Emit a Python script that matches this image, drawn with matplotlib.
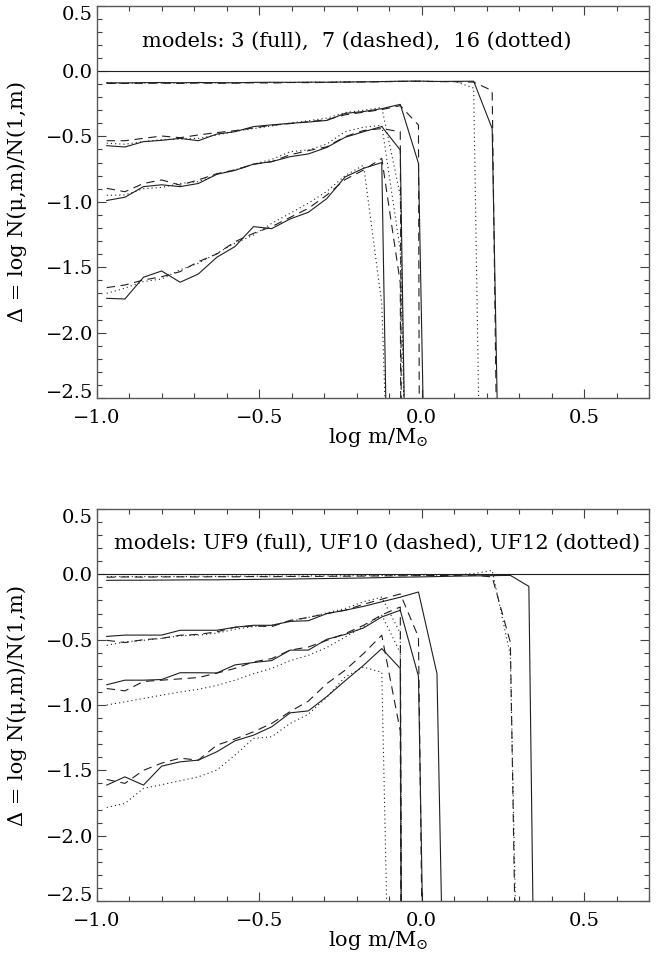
import matplotlib
matplotlib.use('Agg')
import matplotlib.pyplot as plt
from matplotlib.ticker import MultipleLocator, FuncFormatter

plt.rcParams['font.family'] = ['DejaVu Serif']
plt.rcParams['mathtext.fontset'] = 'dejavuserif'
plt.rcParams['lines.scale_dashes'] = False

# mass grid (log m / Msun)
LOGM = [-0.970, -0.914, -0.857, -0.801, -0.744, -0.688, -0.631, -0.575, -0.518,
        -0.462, -0.405, -0.349, -0.292, -0.236, -0.179, -0.123, -0.066, -0.010,
        0.047, 0.104, 0.160, 0.217, 0.273, 0.330, 0.386]

# ---------------- top panel: models 3 (full), 7 (dashed), 16 (dotted)
T_S1 = [-0.090, -0.091, -0.089, -0.088, -0.090, -0.088, -0.089, -0.090, -0.087, -0.086,
        -0.087, -0.085, -0.086, -0.084, -0.083, -0.081, -0.078, -0.077, -0.080, -0.079,
        -0.078, -0.44, -8.0]
T_D1 = [-0.095, -0.095, -0.094, -0.093, -0.095, -0.092, -0.094, -0.093, -0.090, -0.092,
        -0.088, -0.089, -0.087, -0.085, -0.084, -0.082, -0.080, -0.079, -0.081, -0.082,
        -0.085, -0.15, -11.0]
T_O1 = [-0.092, -0.093, -0.091, -0.092, -0.090, -0.091, -0.089, -0.090, -0.089, -0.088,
        -0.087, -0.086, -0.085, -0.083, -0.082, -0.080, -0.079, -0.078, -0.080, -0.082,
        -0.13, -9.0]

T_S2 = [-0.571, -0.581, -0.540, -0.530, -0.515, -0.533, -0.482, -0.464, -0.425, -0.412,
        -0.400, -0.390, -0.378, -0.324, -0.310, -0.288, -0.255, -0.706, -8.0]
T_D2 = [-0.533, -0.533, -0.515, -0.497, -0.510, -0.489, -0.471, -0.456, -0.435, -0.415,
        -0.402, -0.388, -0.372, -0.335, -0.315, -0.295, -0.265, -0.413, -50.0]
T_O2 = [-0.552, -0.560, -0.540, -0.525, -0.520, -0.515, -0.490, -0.462, -0.440, -0.420,
        -0.398, -0.380, -0.360, -0.318, -0.300, -0.278, -0.95, -8.5]

T_S3 = [-0.990, -0.965, -0.884, -0.870, -0.884, -0.860, -0.790, -0.760, -0.712, -0.693,
        -0.655, -0.634, -0.584, -0.507, -0.464, -0.425, -0.604, -9.5]
T_D3 = [-0.897, -0.923, -0.860, -0.833, -0.872, -0.833, -0.785, -0.757, -0.713, -0.693,
        -0.640, -0.609, -0.579, -0.502, -0.455, -0.440, -0.465, -40.0]
T_O3 = [-0.950, -0.948, -0.900, -0.890, -0.860, -0.846, -0.790, -0.755, -0.712, -0.676,
        -0.617, -0.604, -0.558, -0.464, -0.430, -0.415, -1.37, -7.4]

T_S4 = [-1.738, -1.743, -1.577, -1.529, -1.615, -1.552, -1.424, -1.342, -1.190, -1.205,
        -1.131, -1.080, -0.975, -0.810, -0.744, -0.700, -9.0]
T_D4 = [-1.656, -1.636, -1.598, -1.573, -1.534, -1.458, -1.399, -1.305, -1.241, -1.190,
        -1.119, -1.050, -0.948, -0.830, -0.757, -0.668, -1.62, -40.0]
T_O4 = [-1.700, -1.660, -1.610, -1.590, -1.520, -1.470, -1.394, -1.317, -1.254, -1.165,
        -1.088, -1.010, -0.920, -0.800, -0.720, -1.78, -6.0]

# ---------------- bottom panel: models UF9 (full), UF10 (dashed), UF12 (dotted)
B_S1 = [-0.046, -0.045, -0.045, -0.044, -0.043, -0.042, -0.042, -0.040, -0.039, -0.037,
        -0.036, -0.034, -0.032, -0.030, -0.028, -0.025, -0.022, -0.020, -0.017, -0.014,
        -0.012, -0.010, -0.008, -0.092, -11.0]
B_D1 = [-0.022, -0.020, -0.021, -0.020, -0.019, -0.020, -0.018, -0.019, -0.017, -0.018,
        -0.016, -0.017, -0.015, -0.014, -0.013, -0.012, -0.011, -0.010, -0.009, -0.008,
        -0.006, -0.020, -0.52, -9.0]
B_O1 = [-0.018, -0.017, -0.018, -0.016, -0.017, -0.015, -0.016, -0.014, -0.015, -0.013,
        -0.014, -0.012, -0.012, -0.011, -0.010, -0.009, -0.008, -0.007, -0.006, -0.004,
        0.005, 0.030, -0.62, -7.6]

B_S2 = [-0.475, -0.465, -0.465, -0.465, -0.428, -0.428, -0.428, -0.405, -0.390, -0.390,
        -0.360, -0.355, -0.300, -0.275, -0.245, -0.210, -0.175, -0.135, -0.760, -8.0]
B_D2 = [-0.505, -0.522, -0.500, -0.490, -0.466, -0.460, -0.440, -0.405, -0.395, -0.400,
        -0.352, -0.330, -0.300, -0.275, -0.229, -0.190, -0.150, -0.480, -12.0]
B_O2 = [-0.543, -0.517, -0.505, -0.490, -0.470, -0.466, -0.450, -0.420, -0.400, -0.390,
        -0.360, -0.330, -0.295, -0.262, -0.210, -0.175, -0.450, -40.0]

B_S3 = [-0.845, -0.810, -0.810, -0.805, -0.753, -0.753, -0.755, -0.693, -0.675, -0.660,
        -0.580, -0.580, -0.497, -0.460, -0.410, -0.326, -0.275, -0.780, -9.0]
B_D3 = [-0.874, -0.892, -0.820, -0.810, -0.800, -0.790, -0.756, -0.720, -0.670, -0.645,
        -0.580, -0.556, -0.505, -0.454, -0.390, -0.310, -0.250, -40.0]
B_O3 = [-1.000, -0.976, -0.950, -0.925, -0.900, -0.880, -0.850, -0.810, -0.760, -0.720,
        -0.660, -0.620, -0.560, -0.480, -0.400, -0.313, -0.600, -40.0]

B_S4 = [-1.613, -1.550, -1.613, -1.468, -1.435, -1.422, -1.358, -1.274, -1.231, -1.167,
        -1.060, -1.045, -0.935, -0.815, -0.696, -0.568, -0.720, -40.0]
B_D4 = [-1.570, -1.600, -1.500, -1.445, -1.407, -1.422, -1.307, -1.260, -1.205, -1.141,
        -1.050, -0.970, -0.836, -0.734, -0.606, -0.466, -1.200, -40.0]
B_O4 = [-1.784, -1.753, -1.638, -1.610, -1.580, -1.550, -1.498, -1.384, -1.256, -1.243,
        -1.141, -1.070, -0.940, -0.785, -0.710, -0.750, -7.4]

TOP_TEXT = 'models: 3 (full),  7 (dashed),  16 (dotted)'
BOT_TEXT = 'models: UF9 (full), UF10 (dashed), UF12 (dotted)'
XLABEL = r'log m/M$_{\odot}$'
YLABEL = 'Δ = log N(μ,m)/N(1,m)'

X_TICKS = [-1.0, -0.5, 0.0, 0.5]
Y_TICKS = [-2.5, -2.0, -1.5, -1.0, -0.5, 0.0, 0.5]

FS_TICK = 14
FS_TEXT = 15
LINE_COLOR = '0.12'
LW = 0.8
STYLES = {'full': '-', 'dashed': (0, (6, 4)), 'dotted': (0, (0.8, 2.2))}

W, H = 658, 961
fig = plt.figure(figsize=(W / 100, H / 100), dpi=100)
ax1 = fig.add_axes([97 / W, 1 - 398 / H, 552 / W, 392.4 / H])
ax2 = fig.add_axes([97 / W, 1 - 901 / H, 552 / W, 392.0 / H])


def fmt(v, pos):
    s = f'{v:.1f}'
    if s == '-0.0':
        s = '0.0'
    return s.replace('-', '\u2212')


def style_axes(ax):
    ax.set_xlim(-1.0, 0.7)
    ax.set_ylim(-2.5, 0.5)
    ax.set_xticks(X_TICKS)
    ax.set_yticks(Y_TICKS)
    ax.xaxis.set_minor_locator(MultipleLocator(0.1))
    ax.yaxis.set_minor_locator(MultipleLocator(0.1))
    ax.xaxis.set_major_formatter(FuncFormatter(fmt))
    ax.yaxis.set_major_formatter(FuncFormatter(fmt))
    ax.tick_params(which='both', direction='in', top=True, right=True,
                   color='0.25', width=0.8, labelsize=FS_TICK)
    ax.tick_params(which='major', length=6.5)
    ax.tick_params(which='minor', length=3.5)
    ax.tick_params(axis='x', pad=8)
    ax.tick_params(axis='y', pad=3)
    for sp in ax.spines.values():
        sp.set_color('0.35')
        sp.set_linewidth(1.0)
    ax.axhline(0.0, color=LINE_COLOR, lw=LW)
    ax.set_xlabel(XLABEL, fontsize=FS_TEXT, va='center')
    ax.xaxis.set_label_coords(0.51, -0.10)
    ax.set_ylabel(YLABEL, fontsize=FS_TEXT, va='center')
    ax.yaxis.set_label_coords(-0.145, 0.5)
    yt = ax.yaxis.get_major_ticks()
    yt[0].label1.set_verticalalignment('baseline')
    yt[-1].label1.set_verticalalignment('top')


def plot_set(ax, series, style):
    for vals in series:
        ax.plot(LOGM[:len(vals)], vals, color=LINE_COLOR, lw=LW,
                linestyle=STYLES[style], solid_joinstyle='miter')


style_axes(ax1)
plot_set(ax1, [T_S1, T_S2, T_S3, T_S4], 'full')
plot_set(ax1, [T_D1, T_D2, T_D3, T_D4], 'dashed')
plot_set(ax1, [T_O1, T_O2, T_O3, T_O4], 'dotted')
ax1.text(-0.20, 0.224, TOP_TEXT, ha='center', va='center', fontsize=FS_TEXT)

style_axes(ax2)
plot_set(ax2, [B_S1, B_S2, B_S3, B_S4], 'full')
plot_set(ax2, [B_D1, B_D2, B_D3, B_D4], 'dashed')
plot_set(ax2, [B_O1, B_O2, B_O3, B_O4], 'dotted')
ax2.text(-0.139, 0.235, BOT_TEXT, ha='center', va='center', fontsize=FS_TEXT)

fig.savefig('out.png', dpi=100)
